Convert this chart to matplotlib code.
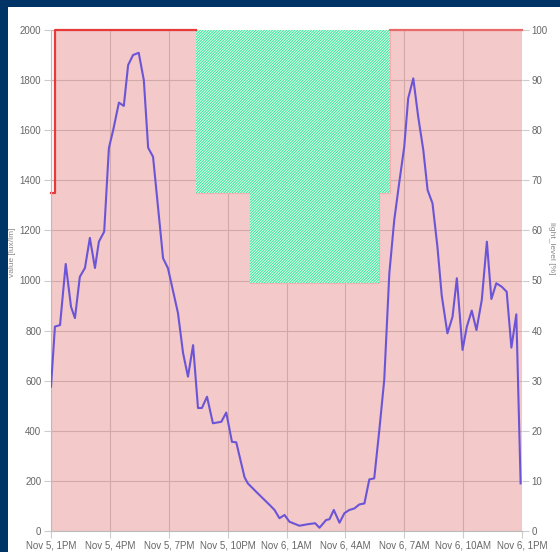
import matplotlib
matplotlib.use('Agg')
import matplotlib.pyplot as plt
from matplotlib.patches import Rectangle

# ---- data (hours after Nov 5, 1PM) ----
lux_hours = [0.0, 0.20, 0.46, 0.75, 1.02, 1.22, 1.47, 1.73, 1.98, 2.24, 2.44, 2.71,
             2.95, 3.17, 3.46, 3.71, 3.93, 4.18, 4.47, 4.73, 4.95, 5.20, 5.71, 5.96,
             6.47, 6.73, 6.98, 7.24, 7.49, 7.69, 7.95, 8.25, 8.68, 8.93, 9.22, 9.44,
             9.86, 10.03, 10.54, 11.14, 11.39, 11.64, 11.90, 12.15, 12.66, 13.08,
             13.46, 13.68, 14.02, 14.19, 14.41, 14.70, 14.95, 15.20, 15.46, 15.71,
             15.97, 16.22, 16.47, 16.73, 16.98, 17.24, 17.49, 17.75, 18.00, 18.20,
             18.46, 18.71, 18.97, 19.19, 19.44, 19.69, 19.91, 20.20, 20.46, 20.68,
             20.97, 21.19, 21.44, 21.68, 21.95, 22.21, 22.44, 22.69, 22.97, 23.22,
             23.46, 23.71, 23.93]
lux_values = [576, 816, 822, 1066, 895, 850, 1015, 1050, 1170, 1050, 1155, 1195,
              1529, 1601, 1710, 1697, 1860, 1900, 1909, 1800, 1530, 1494, 1089, 1049,
              870, 710, 616, 742, 491, 491, 536, 430, 436, 473, 356, 354,
              215, 190, 150, 104, 84, 51, 64, 37, 21, 27,
              31, 13, 44, 47, 84, 33, 71, 84, 90, 106,
              110, 206, 210, 403, 603, 1029, 1241, 1394, 1534, 1727,
              1807, 1654, 1521, 1361, 1308, 1135, 940, 789, 855, 1009,
              723, 816, 880, 802, 922, 1155, 926, 989, 975, 955,
              732, 865, 190]

level_hours = [0.0, 0.20, 7.38, 10.12, 16.73, 17.29, 24.0]
level_pct = [67.5, 100, 67.5, 49.5, 67.5, 100, 100]

window_hours = [7.38, 10.12, 16.73, 17.29]
window_low = [67.5, 49.5, 67.5, 67.5]

x_ticks = [0, 3, 6, 9, 12, 15, 18, 21, 24]
x_labels = ['Nov 5, 1PM', 'Nov 5, 4PM', 'Nov 5, 7PM', 'Nov 5, 10PM', 'Nov 6, 1AM',
            'Nov 6, 4AM', 'Nov 6, 7AM', 'Nov 6, 10AM', 'Nov 6, 1PM']
left_ticks = list(range(0, 2001, 200))
right_ticks = list(range(0, 101, 10))

plt.rcParams['font.family'] = ['Liberation Sans', 'DejaVu Sans']
plt.rcParams['hatch.linewidth'] = 0.8

W, H = 560, 552
fig = plt.figure(figsize=(W / 100, H / 100), dpi=100, facecolor='#003466')
fig.patches.append(Rectangle((8 / W, 0), 1, (H - 7) / H, transform=fig.transFigure,
                             facecolor='white', edgecolor='none', zorder=-10))

ax = fig.add_axes([51 / W, 21 / H, 471 / W, 501 / H])
axl = ax.twinx()

ax.set_axisbelow(True)
ax.fill_between(level_hours, 0, level_pct, step='post', facecolor='#f3c9c9',
                linewidth=0, zorder=0.3)
ax.fill_between(window_hours, window_low, 100, step='post', facecolor='#f4fff9',
                edgecolor='#3fe69c', hatch='////////////', linewidth=0, zorder=1)
# red border of the level area (outside the hatched window)
first_x = level_hours[:3]
first_y = level_pct[:2] + [level_pct[1]]
ax.plot(first_x, first_y, drawstyle='steps-post', color='#e63a3a',
        lw=1.6, zorder=2, clip_on=False)
ax.plot(level_hours[5:], level_pct[5:], drawstyle='steps-post', color='#e86a6a',
        lw=1.6, zorder=2, clip_on=False)
ax.plot(level_hours[2:6], level_pct[2:6], drawstyle='steps-post', color='#f2b0b0',
        lw=0.8, zorder=0.9)

ax.grid(True, color='#d2a9a9', lw=0.8)
ax.set_xlim(0, 24)
ax.set_ylim(0, 100)
ax.set_xticks(x_ticks)
ax.set_xticklabels(x_labels)
ax.set_yticks(right_ticks)
ax.yaxis.tick_right()
ax.tick_params(axis='both', length=5, color='#cccccc', labelcolor='#666666',
               labelsize=7.0, pad=2)
for s in ['top', 'right']:
    ax.spines[s].set_visible(False)
for s in ['left', 'bottom']:
    ax.spines[s].set_color('#bbbbbb')

axl.plot(lux_hours, lux_values, color='#6b55d6', lw=1.5, zorder=3)
axl.set_ylim(0, 2000)
axl.set_yticks(left_ticks)
axl.yaxis.tick_left()
axl.tick_params(axis='y', length=5, color='#cccccc', labelcolor='#666666',
                labelsize=7.0, pad=2)
for s in axl.spines.values():
    s.set_visible(False)

fig.text(13 / W, 1 - 252 / H, 'value [lux/lm]', rotation=90, ha='center',
         va='center', fontsize=6, color='#888888')
fig.text(551 / W, 1 - 248 / H, 'light_level [%]', rotation=270, ha='center',
         va='center', fontsize=6, color='#888888')

fig.savefig('out.png', dpi=100, facecolor=fig.get_facecolor())
